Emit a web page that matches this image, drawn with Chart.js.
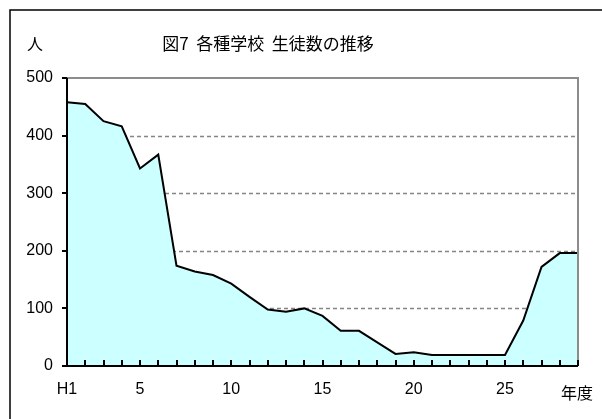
<!DOCTYPE html>
<html>
<head>
<meta charset="utf-8">
<script src="https://cdn.jsdelivr.net/npm/chart.js@4.4.0/dist/chart.umd.min.js"></script>
<style>
  html, body { margin: 0; padding: 0; background: #fff; }
  #wrap { width: 602px; height: 419px; position: relative; }
</style>
</head>
<body>
<div id="wrap"><canvas id="myChart" width="602" height="419"></canvas></div>
<script>
// 年度 (H1 .. H29)
const years = ['H1', '2', '3', '4', '5', '6', '7', '8', '9', '10',
  '11', '12', '13', '14', '15', '16', '17', '18', '19', '20',
  '21', '22', '23', '24', '25', '26', '27', '28', '29'];
// 生徒数 (人)
const students = [458, 455, 425, 416, 343, 367, 174, 164, 158, 143,
  120, 98, 94, 100, 87, 61, 61, 41, 21, 24,
  19, 19, 19, 19, 19, 79, 172, 196, 196];
const shownYears = ['H1', '5', '10', '15', '20', '25'];
const yTicks = [0, 100, 200, 300, 400, 500];

const chartTitle = '図7  各種学校  生徒数の推移';
const yUnit = '人';
const xUnit = '年度';

const jpFont = '"Noto Sans CJK JP", "Liberation Sans", sans-serif';
const numFont = '"Liberation Sans", Arial, sans-serif';

// frame, grid, axes, inner ticks and the text labels
const decorations = {
  id: 'decorations',
  beforeDraw(chart) {
    const ctx = chart.ctx;
    ctx.save();
    ctx.fillStyle = '#fff';
    ctx.fillRect(0, 0, chart.width, chart.height);
    ctx.strokeStyle = '#000';
    ctx.lineWidth = 1.5;
    ctx.strokeRect(10, 10, chart.width + 10, chart.height + 10);
    ctx.restore();
  },
  beforeDatasetsDraw(chart) {
    const ctx = chart.ctx;
    const area = chart.chartArea;
    const y = chart.scales.y;
    ctx.save();
    // dashed grid lines
    ctx.strokeStyle = '#858585';
    ctx.lineWidth = 1.5;
    ctx.setLineDash([4, 3]);
    ctx.beginPath();
    yTicks.slice(1, -1).forEach(v => {
      const py = Math.round(y.getPixelForValue(v)) + 0.5;
      ctx.moveTo(area.left, py);
      ctx.lineTo(area.right, py);
    });
    ctx.stroke();
    ctx.restore();
  },
  afterDatasetsDraw(chart) {
    const ctx = chart.ctx;
    const area = chart.chartArea;
    const x = chart.scales.x;
    const y = chart.scales.y;
    ctx.save();
    // grey plot border (top and right)
    ctx.strokeStyle = '#8c8c8c';
    ctx.lineWidth = 2;
    ctx.beginPath();
    ctx.moveTo(area.left, area.top);
    ctx.lineTo(area.right, area.top);
    ctx.lineTo(area.right, area.bottom);
    ctx.stroke();
    // black axes and ticks
    ctx.strokeStyle = '#000';
    ctx.lineWidth = 2;
    ctx.beginPath();
    ctx.moveTo(area.left, area.top);
    ctx.lineTo(area.left, area.bottom);
    ctx.lineTo(area.right, area.bottom);
    for (let i = 1; i < years.length; i++) {
      const px = Math.round(x.getPixelForTick(i));
      ctx.moveTo(px, area.bottom);
      ctx.lineTo(px, area.bottom - 6);
    }
    yTicks.forEach(v => {
      const py = Math.round(y.getPixelForValue(v));
      ctx.moveTo(area.left, py);
      ctx.lineTo(area.left - 5, py);
    });
    ctx.stroke();
    // texts
    ctx.fillStyle = '#000';
    ctx.textBaseline = 'middle';
    ctx.textAlign = 'center';
    ctx.font = '17px ' + jpFont;
    ctx.fillText(chartTitle, 268, 44);
    ctx.font = '16px ' + jpFont;
    ctx.fillText(yUnit, 35, 44);
    ctx.fillText(xUnit, 577, 393);
    ctx.restore();
  }
};

const chartCtx = document.getElementById('myChart').getContext('2d');
new Chart(chartCtx, {
  type: 'line',
  data: {
    labels: years,
    datasets: [{
      label: '生徒数',
      data: students,
      borderColor: '#000',
      borderWidth: 2,
      backgroundColor: '#ccffff',
      fill: 'origin',
      pointRadius: 0,
      tension: 0
    }]
  },
  options: {
    responsive: false,
    animation: false,
    layout: { padding: { top: 78, right: 24, bottom: 0, left: 0 } },
    plugins: {
      legend: { display: false },
      title: { display: false },
      tooltip: { enabled: false }
    },
    scales: {
      x: {
        offset: false,
        afterFit: (scale) => { scale.height = 53; },
        grid: { display: false, drawTicks: false },
        border: { display: false },
        ticks: {
          autoSkip: false,
          maxRotation: 0,
          padding: 14,
          color: '#000',
          font: { family: numFont, size: 16 },
          callback: function (value) {
            const lab = this.getLabelForValue(value);
            return shownYears.includes(lab) ? lab : '';
          }
        }
      },
      y: {
        min: 0,
        max: 500,
        afterFit: (scale) => { scale.width = 67; },
        afterBuildTicks: (scale) => { scale.ticks = yTicks.map(v => ({ value: v })); },
        grid: { display: false, drawTicks: false },
        border: { display: false },
        ticks: {
          padding: 14,
          color: '#000',
          font: { family: numFont, size: 16 }
        }
      }
    }
  },
  plugins: [decorations]
});
</script>
</body>
</html>
